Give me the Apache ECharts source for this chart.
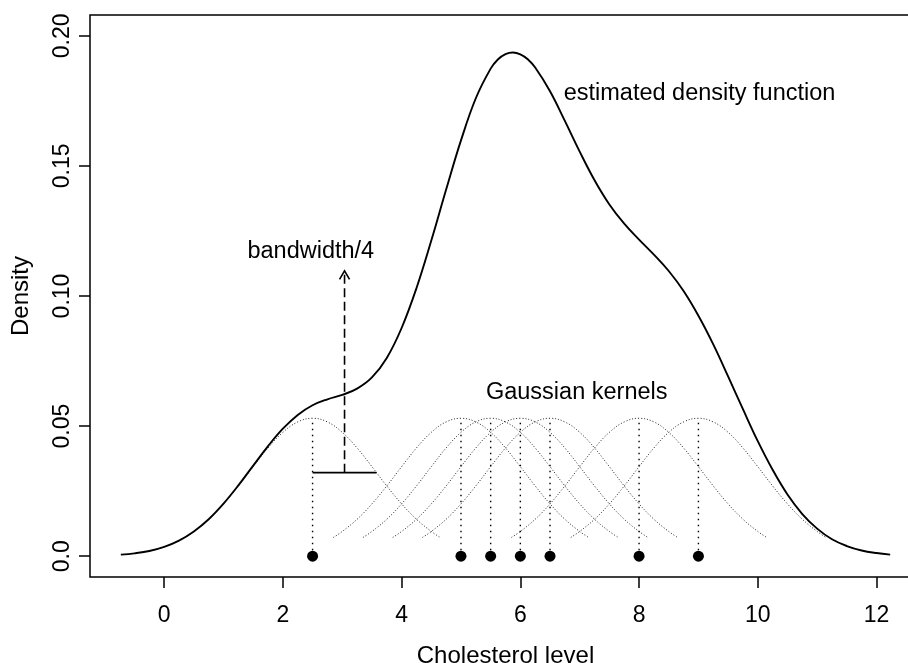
<!DOCTYPE html>
<html>
<head>
<meta charset="utf-8">
<script src="https://cdn.jsdelivr.net/npm/echarts@6.0.0/dist/echarts.min.js"></script>
<style>
  html, body { margin: 0; padding: 0; background: #fff; }
  #chart { width: 908px; height: 663px; }
</style>
</head>
<body>
<div id="chart"></div>
<script>
// ---- data ----
const observations = [2.5, 5, 5.5, 6, 6.5, 8, 9];

const densityX = [-0.73, -0.5, -0.25, 0, 0.25, 0.5, 0.75, 1, 1.25, 1.5, 1.75, 2, 2.25, 2.5, 2.75, 3,
  3.25, 3.5, 3.75, 4, 4.25, 4.5, 4.75, 5, 5.25, 5.5, 5.625, 5.75, 5.875, 6, 6.125, 6.25, 6.5, 6.75, 7, 7.25, 7.5, 7.75,
  8, 8.25, 8.5, 8.75, 9, 9.25, 9.5, 9.75, 10, 10.25, 10.5, 10.75, 11, 11.25, 11.5, 11.75, 12, 12.23];
const densityY = [0.0006, 0.0011, 0.0020, 0.0036, 0.0060, 0.0095, 0.0142, 0.0202, 0.0272, 0.0348, 0.0423,
  0.0490, 0.0543, 0.0580, 0.0603, 0.0620, 0.0644, 0.0687, 0.0762, 0.0877, 0.1030, 0.1213, 0.1409,
  0.1598, 0.1760, 0.1874, 0.1910, 0.1930, 0.1936, 0.1929, 0.1910, 0.1878, 0.1787, 0.1673, 0.1555, 0.1445, 0.1352, 0.1278,
  0.1217, 0.1159, 0.1096, 0.1019, 0.0924, 0.0814, 0.0691, 0.0565, 0.0442, 0.0332, 0.0237, 0.0162,
  0.0106, 0.0065, 0.0039, 0.0022, 0.0012, 0.0006];

// shape of one kernel bump (offset from its centre, height)
const kernelOffsets = [-2.15, -2, -1.75, -1.5, -1.25, -1, -0.75, -0.5, -0.25, 0,
  0.25, 0.5, 0.75, 1, 1.25, 1.5, 1.75, 2, 2.15];
const kernelHeights = [0.0072, 0.0095, 0.0142, 0.0201, 0.0270, 0.0344, 0.0416, 0.0476, 0.0516, 0.0530,
  0.0516, 0.0476, 0.0416, 0.0344, 0.0270, 0.0201, 0.0142, 0.0095, 0.0072];

// bandwidth marker: horizontal segment and dashed arrow
const bandwidthSegmentX = [2.5, 3.577];
const bandwidthSegmentY = 0.0321;
const arrowX = 3.0385;
const arrowY = [0.0321, 0.1097];

const xTicks = [0, 2, 4, 6, 8, 10, 12];
const yTicks = [0, 0.05, 0.1, 0.15, 0.2];
const yTickLabels = ['0.0', '0.05', '0.10', '0.15', '0.20'];

const annotationTexts = ['estimated density function', 'bandwidth/4', 'Gaussian kernels'];
const annotationX = [6.73, 2.47, 6.95];
const annotationY = [0.178, 0.117, 0.063];

const xTitle = 'Cholesterol level';
const yTitle = 'Density';

// ---- chart ----
const FONT = '"Liberation Sans", Arial, Helvetica, sans-serif';
const chart = echarts.init(document.getElementById('chart'), null, { renderer: 'canvas' });

const series = [];

// Gaussian kernels (dotted)
observations.forEach(function (c) {
  series.push({
    type: 'line',
    data: kernelOffsets.map(function (o, i) { return [c + o, kernelHeights[i]]; }),
    smooth: 0.4,
    symbol: 'none',
    silent: true,
    lineStyle: { color: '#222', width: 1, type: [1, 2] },
    z: 2
  });
});

// stems from each observation up to the kernel peak
const kernelPeak = Math.max.apply(null, kernelHeights);
series.push({
  type: 'custom',
  silent: true,
  encode: { x: 0, y: [1, 2] },
  data: observations.map(function (x) { return [x, 0, kernelPeak]; }),
  renderItem: function (params, api) {
    const p0 = api.coord([api.value(0), api.value(1)]);
    const p1 = api.coord([api.value(0), api.value(2)]);
    return {
      type: 'line',
      shape: { x1: p0[0], y1: p0[1], x2: p1[0], y2: p1[1] },
      style: { stroke: '#000', lineWidth: 1.4, lineDash: [1.4, 4.6] }
    };
  },
  z: 3
});

// estimated density
series.push({
  type: 'line',
  data: densityX.map(function (x, i) { return [x, densityY[i]]; }),
  smooth: 0.4,
  symbol: 'none',
  silent: true,
  lineStyle: { color: '#000', width: 1.9 },
  z: 5
});

// bandwidth segment
series.push({
  type: 'line',
  data: bandwidthSegmentX.map(function (x) { return [x, bandwidthSegmentY]; }),
  symbol: 'none',
  silent: true,
  lineStyle: { color: '#000', width: 1.8 },
  z: 5
});

// dashed arrow
series.push({
  type: 'custom',
  silent: true,
  encode: { x: 0, y: [1, 2] },
  data: [[arrowX, arrowY[0], arrowY[1]]],
  renderItem: function (params, api) {
    const p0 = api.coord([api.value(0), api.value(1)]);
    const p1 = api.coord([api.value(0), api.value(2)]);
    const hl = 10, ang = Math.PI / 6;
    const dx = hl * Math.sin(ang), dy = hl * Math.cos(ang);
    return {
      type: 'group',
      children: [
        { type: 'line', shape: { x1: p0[0], y1: p0[1], x2: p1[0], y2: p1[1] },
          style: { stroke: '#000', lineWidth: 1.6, lineDash: [9, 4.5] } },
        { type: 'polyline', shape: { points: [[p1[0] - dx, p1[1] + dy], [p1[0], p1[1]], [p1[0] + dx, p1[1] + dy]] },
          style: { stroke: '#000', lineWidth: 1.6, fill: null } }
      ]
    };
  },
  z: 5
});

// observation points
series.push({
  type: 'scatter',
  data: observations.map(function (x) { return [x, 0]; }),
  symbol: 'circle',
  symbolSize: 11,
  silent: true,
  itemStyle: { color: '#000', opacity: 1 },
  z: 6
});

// text annotations
series.push({
  type: 'scatter',
  symbolSize: 0,
  silent: true,
  itemStyle: { opacity: 1 },
  data: annotationTexts.map(function (t, i) {
    return {
      value: [annotationX[i], annotationY[i], t],
      label: i === 0 ? { position: 'right', distance: 0 } : { position: 'inside' }
    };
  }),
  label: {
    show: true,
    formatter: function (p) { return p.value[2]; },
    color: '#000',
    opacity: 1,
    fontFamily: FONT,
    fontSize: 23.5
  },
  z: 7
});

chart.setOption({
  animation: false,
  backgroundColor: '#fff',
  grid: {
    left: 90, top: 15, right: -13, bottom: 86,
    outerBoundsMode: 'none',
    containLabel: false,
    show: true, borderColor: '#000', borderWidth: 1.5, backgroundColor: 'transparent'
  },
  xAxis: {
    type: 'value',
    min: -1.2494, max: 12.7494,
    name: xTitle,
    nameLocation: 'middle',
    nameGap: 67,
    nameTextStyle: { color: '#000', fontFamily: FONT, fontSize: 24 },
    axisLine: { show: false, onZero: false },
    axisTick: { show: true, inside: false, length: 11, customValues: xTicks, lineStyle: { color: '#000', width: 1.5 } },
    axisLabel: { customValues: xTicks, margin: 27, color: '#000', fontFamily: FONT, fontSize: 23 },
    splitLine: { show: false }
  },
  yAxis: {
    type: 'value',
    min: -0.008, max: 0.208,
    name: yTitle,
    nameLocation: 'middle',
    nameGap: 57,
    nameTextStyle: { color: '#000', fontFamily: FONT, fontSize: 24 },
    axisLine: { show: false, onZero: false },
    axisTick: { show: true, inside: false, length: 11, customValues: yTicks, lineStyle: { color: '#000', width: 1.5 } },
    axisLabel: {
      customValues: yTicks, rotate: 90, margin: 16, color: '#000', fontFamily: FONT, fontSize: 23,
      formatter: function (v) {
        const i = yTicks.findIndex(function (t) { return Math.abs(t - v) < 1e-9; });
        return i >= 0 ? yTickLabels[i] : '';
      }
    },
    splitLine: { show: false }
  },
  series: series
});
</script>
</body>
</html>
